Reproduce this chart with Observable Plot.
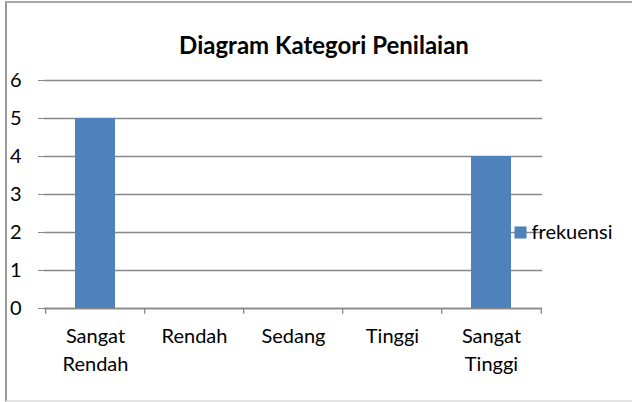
<!DOCTYPE html>
<html>
<head>
<meta charset="utf-8">
<script src="https://cdn.jsdelivr.net/npm/d3@7"></script>
<script src="https://cdn.jsdelivr.net/npm/@observablehq/plot@0.6"></script>
<style>
  html, body { margin: 0; padding: 0; background: #fff; }
  #wrap { position: relative; width: 632px; height: 402px; overflow: hidden; }
  #frame { position: absolute; left: 5px; top: 1px; width: 640px; height: 397px;
           border-left: 2px solid #9a9a9a; border-top: 2px solid #a8a8a8; border-bottom: 2px solid #e4e4e4; }
  #chart { position: absolute; left: 0; top: 0; }
</style>
</head>
<body>
<div id="wrap"><div id="frame"></div><div id="chart"></div></div>
<script>
const title = "Diagram Kategori Penilaian";
const seriesName = "frekuensi";
const categories = ["Sangat Rendah", "Rendah", "Sedang", "Tinggi", "Sangat Tinggi"];
const values = [5, 0, 0, 0, 4];
const yTicks = [0, 1, 2, 3, 4, 5, 6];

const data = categories.map((c, i) => ({category: c, value: values[i]}));
const font = "Lato, 'Open Sans', sans-serif";
const grid = "#888888";
const step = (542 - 44) / categories.length;
const last = categories[categories.length - 1];

const chart = Plot.plot({
  width: 632,
  height: 402,
  marginLeft: 44,
  marginRight: 90,
  marginTop: 80,
  marginBottom: 94,
  style: {fontFamily: font, fontSize: "20px", color: "#000", background: "transparent", overflow: "visible"},
  x: {domain: categories, paddingInner: 0.6, paddingOuter: 0.3, axis: null, label: null},
  y: {domain: [0, 6], ticks: yTicks, label: null},
  marks: [
    Plot.ruleY(yTicks, {stroke: grid, strokeWidth: 1.3}),
    Plot.axisY({ticks: yTicks, tickSize: 6, tickPadding: 17, stroke: grid, strokeOpacity: 1, tickFormat: d => String(d), fontSize: 20, label: null}),
    Plot.ruleX([0], {frameAnchor: "left", stroke: grid, strokeWidth: 1.3}),
    Plot.barY(data, {x: "category", y: "value", fill: "#4F81BD"}),
    Plot.ruleY([0], {stroke: grid, strokeWidth: 1.3}),
    Plot.ruleX(categories, {x: d => d, y1: 0, y2: -0.15, dx: -step / 2, stroke: grid, strokeWidth: 1.3}),
    Plot.ruleX([last], {x: d => d, y1: 0, y2: -0.15, dx: step / 2, stroke: grid, strokeWidth: 1.3}),
    Plot.text(data, {x: "category", y: 0, text: d => d.category.replace(" ", "\n"), lineAnchor: "top", dy: 15, lineHeight: 1.38, fontSize: 20, fill: "#000"}),
    Plot.text([title], {frameAnchor: "top", dx: 30.5, dy: -44, text: d => d, fontWeight: "bold", fontSize: 24, fill: "#000"}),
    Plot.dot([{category: last, value: 2}], {x: "category", y: "value", dx: 29, symbol: "square", r: 6.8, fill: "#4F81BD", stroke: "none"}),
    Plot.text([{category: last, value: 2}], {x: "category", y: "value", dx: 40, text: () => seriesName, textAnchor: "start", fontSize: 20, fill: "#000"})
  ]
});
document.getElementById("chart").appendChild(chart);
</script>
</body>
</html>
